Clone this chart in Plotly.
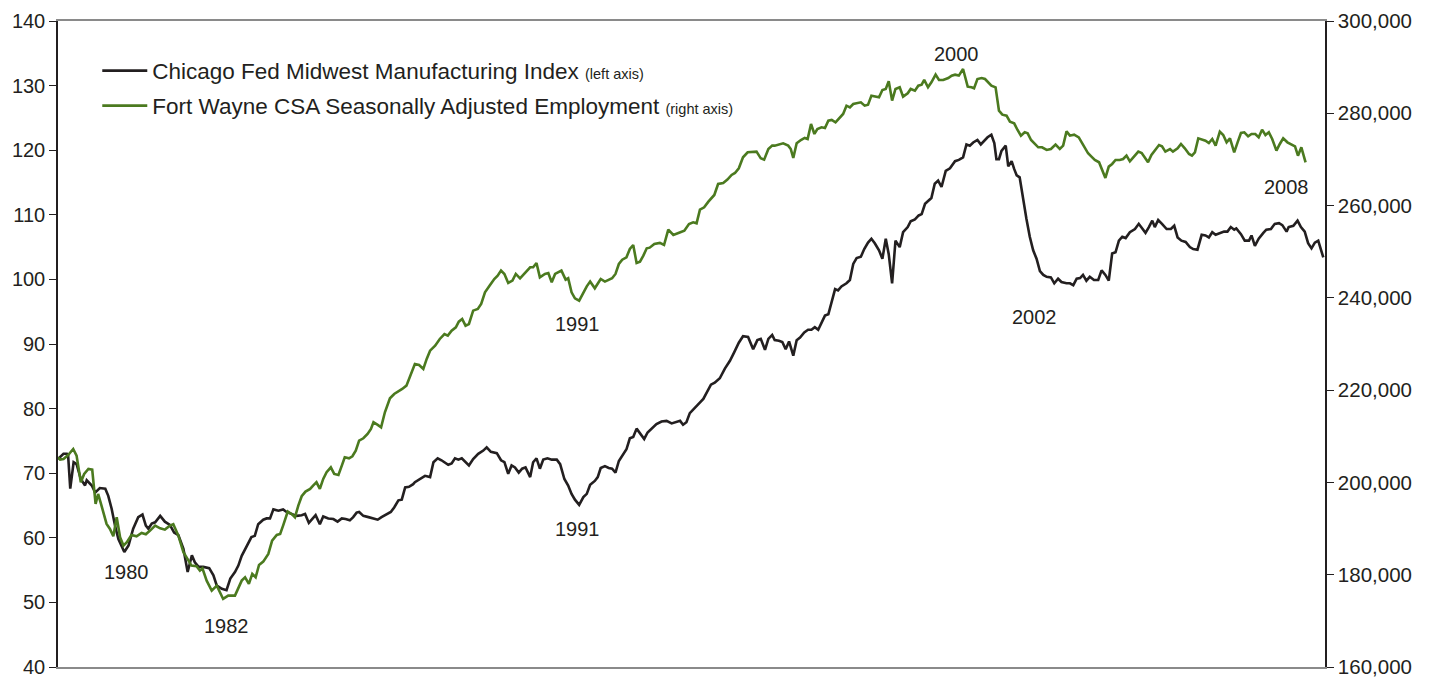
import plotly.graph_objects as go

# ---------------- data ----------------
black_years = [
    1979.00, 1979.13, 1979.21, 1979.24, 1979.29, 1979.37, 1979.44, 1979.54, 1979.64, 1979.68,
    1979.80, 1979.88, 1979.99, 1980.12, 1980.19, 1980.27, 1980.35, 1980.43, 1980.57, 1980.67,
    1980.78, 1980.90, 1981.00, 1981.08, 1981.14, 1981.22, 1981.30, 1981.42, 1981.53, 1981.65,
    1981.75, 1981.85, 1981.97, 1982.07, 1982.17, 1982.24, 1982.33, 1982.44, 1982.58, 1982.68,
    1982.76, 1982.88, 1982.99, 1983.08,
    1983.19, 1983.27, 1983.35, 1983.47, 1983.58, 1983.66, 1983.74, 1983.86, 1983.94, 1984.02,
    1984.10, 1984.22, 1984.33, 1984.41, 1984.53, 1984.65, 1984.77, 1984.85, 1984.94, 1985.02,
    1985.10, 1985.20, 1985.28, 1985.40, 1985.52, 1985.62, 1985.72, 1985.81, 1985.91, 1985.99,
    1986.07, 1986.13, 1986.23, 1986.35, 1986.47, 1986.57, 1986.66, 1986.78, 1986.88, 1986.96,
    1987.06, 1987.14, 1987.22, 1987.31, 1987.41,
    1987.45, 1987.57, 1987.69, 1987.81, 1987.89, 1987.99, 1988.08, 1988.24, 1988.32, 1988.40,
    1988.48, 1988.56, 1988.64, 1988.73, 1988.83, 1988.95, 1989.07, 1989.15, 1989.25, 1989.39,
    1989.49, 1989.57, 1989.66, 1989.74, 1989.82, 1989.91, 1989.99, 1990.07, 1990.18, 1990.25,
    1990.33, 1990.41, 1990.49, 1990.59, 1990.69, 1990.81, 1990.89, 1990.99, 1991.08, 1991.16,
    1991.24, 1991.34, 1991.44, 1991.52, 1991.60,
    1991.71, 1991.78, 1991.85, 1991.95, 1992.04, 1992.12, 1992.20, 1992.28, 1992.38, 1992.46,
    1992.54, 1992.62, 1992.70, 1992.78, 1992.88, 1992.96, 1993.05, 1993.17, 1993.29, 1993.41,
    1993.53, 1993.65, 1993.73, 1993.80, 1993.88, 1993.96, 1994.08, 1994.18, 1994.28, 1994.36,
    1994.46, 1994.55, 1994.67, 1994.79, 1994.91, 1995.01, 1995.12, 1995.22, 1995.34, 1995.46,
    1995.56, 1995.64, 1995.74, 1995.82, 1995.91,
    1995.97, 1996.07, 1996.15, 1996.23, 1996.31, 1996.41, 1996.49, 1996.57, 1996.67, 1996.76,
    1996.84, 1996.92, 1997.00, 1997.08, 1997.16, 1997.24, 1997.32, 1997.40, 1997.47, 1997.55,
    1997.67, 1997.75, 1997.83, 1997.91, 1998.01, 1998.09, 1998.18, 1998.26, 1998.34, 1998.44,
    1998.52, 1998.60, 1998.67, 1998.75, 1998.83, 1998.93, 1999.01, 1999.12, 1999.19, 1999.29,
    1999.38, 1999.45, 1999.53, 1999.62, 1999.68, 1999.76, 1999.84, 1999.92, 2000.02, 2000.12,
    2000.24, 2000.33, 2000.43, 2000.51, 2000.59, 2000.67, 2000.77, 2000.85, 2000.93, 2001.01,
    2001.10, 2001.17, 2001.22, 2001.28, 2001.34, 2001.44, 2001.50, 2001.58, 2001.64, 2001.70,
    2001.77, 2001.85, 2001.93, 2002.01, 2002.09, 2002.17, 2002.25, 2002.33, 2002.41, 2002.51,
    2002.59, 2002.68, 2002.76, 2002.88, 2002.96, 2003.04, 2003.12, 2003.20, 2003.27, 2003.35,
    2003.43, 2003.53, 2003.63, 2003.71, 2003.80, 2003.88, 2003.96, 2004.04, 2004.12, 2004.20,
    2004.28, 2004.38,
    2004.50, 2004.59, 2004.67, 2004.75, 2004.83, 2004.91, 2004.97, 2005.05, 2005.14, 2005.25,
    2005.35, 2005.43, 2005.51, 2005.60, 2005.70, 2005.80, 2005.88, 2005.98, 2006.08, 2006.17,
    2006.25, 2006.33, 2006.41, 2006.51, 2006.61, 2006.69, 2006.77, 2006.85, 2006.90, 2007.01,
    2007.10, 2007.20, 2007.26, 2007.34, 2007.43, 2007.54, 2007.61, 2007.72, 2007.81, 2007.91,
    2007.99, 2008.09, 2008.14, 2008.25, 2008.35, 2008.43, 2008.52, 2008.60, 2008.68, 2008.76,
    2008.84, 2008.90, 2008.96,
]
black_index = [
    72.2, 73.0, 73.0, 72.7, 67.6, 71.7, 71.4, 69.1, 68.1, 68.9,
    68.1, 67.0, 67.7, 67.6, 66.5, 64.5, 61.9, 59.8, 57.8, 58.8,
    61.4, 63.2, 63.6, 61.9, 61.4, 62.2, 62.4, 63.4, 62.5, 62.0,
    60.8, 60.4, 58.3, 54.7, 57.3, 56.2, 55.5, 55.5, 55.3, 54.2,
    52.6, 52.1, 51.9, 53.7,
    54.7, 55.7, 57.2, 58.8, 60.1, 60.3, 62.1, 62.8, 63.0, 63.0,
    64.4, 64.2, 64.4, 64.0, 63.7, 63.4, 63.5, 63.7, 62.3, 62.9,
    63.5, 62.1, 63.3, 63.0, 62.9, 62.5, 63.0, 62.9, 62.7, 63.2,
    63.9, 64.0, 63.4, 63.2, 63.0, 62.8, 63.2, 63.6, 64.0, 64.7,
    65.8, 65.9, 67.8, 67.9, 68.3,
    68.6, 69.1, 69.6, 69.4, 71.7, 72.3, 72.0, 71.3, 71.5, 72.3,
    72.1, 72.3, 71.7, 71.2, 72.2, 73.0, 73.5, 74.0, 73.3, 73.1,
    72.0, 71.7, 69.9, 71.2, 70.9, 70.1, 70.7, 70.9, 69.4, 71.7,
    72.3, 70.7, 72.1, 72.3, 72.1, 72.1, 71.4, 69.1, 68.1, 66.8,
    65.9, 65.1, 66.3, 66.8, 68.2,
    68.8, 69.4, 70.8, 71.1, 70.8, 70.7, 70.1, 71.9, 73.0, 73.7,
    75.4, 75.6, 76.9, 76.1, 75.3, 76.3, 76.8, 77.6, 78.0, 78.1,
    77.7, 77.9, 78.1, 77.5, 77.9, 79.3, 80.2, 80.8, 81.5, 82.5,
    83.7, 84.0, 84.7, 86.2, 87.4, 88.7, 90.2, 91.2, 91.1, 89.2,
    90.6, 90.8, 89.1, 90.8, 91.4,
    90.6, 90.5, 90.3, 89.2, 90.4, 88.2, 90.6, 91.0, 91.8, 92.2,
    92.2, 92.6, 92.2, 93.4, 94.4, 94.6, 96.7, 98.5, 98.3, 98.9,
    99.4, 99.9, 102.4, 103.3, 103.5, 104.7, 105.7, 106.3, 105.6, 104.5,
    103.2, 106.3, 103.9, 99.4, 106.0, 105.0, 107.3, 108.1, 109.0, 109.3,
    109.9, 110.1, 111.7, 112.3, 112.6, 114.8, 115.3, 114.3, 116.8, 117.2,
    118.3, 118.5, 118.9, 120.9, 120.7, 121.2, 121.6, 120.9, 121.4, 122.0,
    122.4, 121.1, 118.6, 118.6, 119.9, 120.7, 117.5, 118.3, 117.1, 116.1,
    115.8, 112.2, 109.4, 106.6, 104.5, 103.2, 101.3, 100.7, 100.4, 100.3,
    99.4, 100.1, 99.6, 99.4, 99.4, 99.1, 100.1, 100.2, 100.7, 99.8,
    100.4, 99.9, 99.9, 101.4, 100.7, 99.8, 104.0, 104.2, 106.0, 106.6,
    106.4, 107.3,
    107.8, 108.6, 107.8, 107.2, 108.1, 109.1, 108.1, 109.2, 108.6, 107.8,
    107.8, 108.3, 106.5, 106.0, 105.8, 105.0, 104.7, 104.6, 106.9, 106.8,
    106.5, 107.3, 106.9, 107.2, 107.4, 107.4, 108.1, 107.7, 107.9, 107.0,
    106.0, 106.0, 106.8, 105.2, 106.3, 107.2, 107.7, 107.8, 108.6, 108.7,
    108.4, 107.4, 108.1, 108.3, 109.1, 108.1, 107.4, 105.6, 104.8, 105.7,
    106.0, 104.7, 103.4,
]

green_years = [
    1979.00, 1979.05, 1979.13, 1979.24, 1979.36, 1979.44, 1979.54, 1979.62, 1979.72, 1979.81,
    1979.89, 1979.95, 1980.03, 1980.15, 1980.23, 1980.31, 1980.39, 1980.47, 1980.55, 1980.63,
    1980.74, 1980.86, 1980.98, 1981.08, 1981.18, 1981.30, 1981.42, 1981.53, 1981.65, 1981.73,
    1981.85, 1981.97, 1982.09, 1982.16, 1982.28, 1982.36, 1982.42, 1982.52, 1982.64, 1982.76,
    1982.91, 1983.03,
    1983.19, 1983.27, 1983.35, 1983.43, 1983.52, 1983.60, 1983.68, 1983.76, 1983.86, 1983.98,
    1984.07, 1984.18, 1984.26, 1984.33, 1984.44, 1984.53, 1984.61, 1984.69, 1984.77, 1984.86,
    1984.97, 1985.04, 1985.12, 1985.20, 1985.28, 1985.36, 1985.46, 1985.54, 1985.64, 1985.72,
    1985.79, 1985.89, 1985.97, 1986.05, 1986.13, 1986.23, 1986.33, 1986.41, 1986.47, 1986.57,
    1986.65, 1986.74, 1986.86, 1986.96, 1987.06, 1987.15, 1987.25, 1987.33, 1987.39,
    1987.45, 1987.55, 1987.65, 1987.73, 1987.81, 1987.93, 1988.04, 1988.15, 1988.23, 1988.32,
    1988.42, 1988.49, 1988.57, 1988.65, 1988.73, 1988.83, 1988.94, 1989.02, 1989.11, 1989.23,
    1989.33, 1989.41, 1989.49, 1989.57, 1989.66, 1989.76, 1989.84, 1989.94, 1990.04, 1990.18,
    1990.25, 1990.33, 1990.41, 1990.53, 1990.61, 1990.69, 1990.77, 1990.92, 1991.02, 1991.08,
    1991.16, 1991.24, 1991.34, 1991.44, 1991.52, 1991.60,
    1991.71, 1991.79, 1991.85, 1991.95, 1992.04, 1992.12, 1992.20, 1992.28, 1992.36, 1992.46,
    1992.54, 1992.62, 1992.70, 1992.78, 1992.86, 1992.94, 1993.01, 1993.12, 1993.25, 1993.35,
    1993.45, 1993.57, 1993.69, 1993.83, 1993.94, 1994.04, 1994.12, 1994.20, 1994.30, 1994.40,
    1994.54, 1994.63, 1994.75, 1994.85, 1994.95, 1995.03, 1995.12, 1995.22, 1995.33, 1995.44,
    1995.54, 1995.64, 1995.72, 1995.82, 1995.91,
    1995.97, 1996.07, 1996.17, 1996.29, 1996.35, 1996.41, 1996.49, 1996.59, 1996.68, 1996.75,
    1996.83, 1996.91, 1996.98, 1997.08, 1997.16, 1997.24, 1997.32, 1997.41, 1997.51, 1997.59,
    1997.67, 1997.75, 1997.83, 1997.93, 1998.01, 1998.10, 1998.18, 1998.26, 1998.36, 1998.44,
    1998.52, 1998.60, 1998.67, 1998.75, 1998.83, 1998.93, 1999.01, 1999.12, 1999.19, 1999.29,
    1999.37, 1999.45, 1999.51, 1999.60, 1999.68, 1999.78, 1999.86, 1999.96, 2000.08, 2000.16,
    2000.24, 2000.33, 2000.43, 2000.54, 2000.63, 2000.69, 2000.77, 2000.87, 2000.95, 2001.03,
    2001.10, 2001.20, 2001.28, 2001.36, 2001.46, 2001.54, 2001.64, 2001.72, 2001.80, 2001.89,
    2001.96, 2002.04, 2002.13, 2002.21, 2002.30, 2002.41, 2002.51, 2002.62, 2002.72, 2002.80,
    2002.88, 2002.96, 2003.06, 2003.17, 2003.27, 2003.39, 2003.47, 2003.55, 2003.65, 2003.72,
    2003.80, 2003.88, 2003.96, 2004.04, 2004.14, 2004.22, 2004.30, 2004.38,
    2004.50, 2004.58, 2004.66, 2004.73, 2004.81, 2004.89, 2004.99, 2005.07, 2005.14, 2005.22,
    2005.33, 2005.40, 2005.51, 2005.59, 2005.68, 2005.78, 2005.85, 2005.92, 2006.00, 2006.09,
    2006.17, 2006.25, 2006.33, 2006.41, 2006.51, 2006.59, 2006.67, 2006.75, 2006.85, 2006.93,
    2007.01, 2007.09, 2007.18, 2007.26, 2007.35, 2007.43, 2007.51, 2007.59, 2007.67, 2007.75,
    2007.85, 2007.93, 2008.01, 2008.11, 2008.21, 2008.29, 2008.36, 2008.44, 2008.54,
]
green_jobs = [
    205450, 204940, 205090, 205950, 207250, 205800, 200030, 201840, 202920, 202770,
    195340, 197500, 194970, 191000, 189920, 188330, 192450, 188110, 186310, 187030,
    188620, 188330, 189050, 188760, 189560, 190640, 190060, 189770, 190640, 190930,
    188470, 184860, 183060, 181970, 181830, 180890, 181400, 178720, 176560, 177640,
    174750, 175470,
    175470, 177280, 178720, 179450, 178000, 180170, 179450, 182120, 182840, 184500,
    187390, 188620, 188840, 190640, 193680, 193170, 192450, 194980, 197000, 198010,
    198590, 199310, 200030, 198590, 200760, 202200, 203280, 201840, 201620, 203640,
    205450, 205230, 205670, 206890, 209060, 209570, 210500, 211590, 213030, 212460,
    211950, 215200, 218230, 219170, 219680, 220260, 220980, 222780, 224450,
    225670, 225460, 224590, 226760, 228560, 229650, 231090, 232170, 231810, 232900,
    233620, 234850, 235430, 233980, 234340, 237230, 237590, 238680, 241200, 242790,
    244090, 244810, 245900, 245180, 243230, 243730, 245180, 244240, 245180, 246620,
    246620, 247560, 244450, 245180, 245390, 243370, 245180, 245900, 243950, 244240,
    241200, 239900, 239400, 241200, 242500, 243520,
    242070, 243230, 244090, 243520, 243950, 244240, 245180, 247340, 248280, 248790,
    250600, 251460, 247560, 247850, 249150, 250740, 250880, 251680, 251900, 251460,
    254780, 253630, 254060, 254570, 256010, 256370, 256160, 259120, 259620, 260850,
    262300, 264680, 264900, 265620, 266630, 267060, 268070, 270460, 271540, 271540,
    271690, 270240, 269950, 272260, 272990,
    272990, 273200, 273490, 272990, 272260, 270320, 273490, 274210, 274650, 274430,
    277680, 275520, 276600, 276960, 276820, 278400, 278550, 278040, 278980, 279850,
    281650, 281290, 282020, 282300, 282380, 281650, 281870, 283820, 283600, 283460,
    285050, 285270, 286930, 282740, 285270, 285630, 283600, 284330, 285270, 284900,
    285990, 286200, 287220, 285630, 286710, 288370, 287220, 287220, 287650, 288160,
    288370, 288160, 289600, 285770, 285630, 285410, 287430, 287650, 287430, 286710,
    285990, 285630, 280570, 279700, 279490, 278190, 277830, 276380, 275150, 275880,
    275660, 274210, 273350, 272630, 272630, 272050, 272270, 273200, 272270, 272990,
    276090, 275150, 275370, 274790, 273200, 271330, 270600, 269880, 269380, 267570,
    265980, 268440, 269020, 269880, 269880, 270090, 270820, 269590,
    270960, 271690, 271400, 270460, 269380, 270960, 272260, 273130, 272840, 271690,
    272260, 271690, 272410, 273350, 272410, 271180, 270820, 271540, 274580, 274290,
    274070, 273560, 274430, 272990, 276020, 275300, 273710, 274580, 271540, 273710,
    275730, 275880, 275010, 275520, 275520, 274790, 276450, 275300, 275880, 274430,
    271900, 273350, 274580, 273710, 273130, 272840, 270820, 272630, 269380,
]

black_name = "Chicago Fed Midwest Manufacturing Index"
green_name = "Fort Wayne CSA Seasonally Adjusted Employment"

label_text = ["1980", "1982", "1991", "1991", "2000", "2002", "2008"]
label_year = [1980.63, 1983.00, 1991.31, 1991.31, 2000.28, 2002.13, 2008.10]
label_value = [54.7, 46.35, 93.1, 61.4, 134.9, 94.2, 114.3]

left_ticks = [40, 50, 60, 70, 80, 90, 100, 110, 120, 130, 140]
right_ticks = [160000, 180000, 200000, 220000, 240000, 260000, 280000, 300000]

# ---------------- figure ----------------
INK = "#231f20"
GREEN = "#4b7a1f"
FONT = "Liberation Sans, Arial, sans-serif"

fig = go.Figure()
fig.add_trace(go.Scatter(
    x=black_years, y=black_index, mode="lines",
    line=dict(color=INK, width=2.6),
    name=black_name + ' <span style="font-size:14.5px">(left axis)</span>',
    legend="legend", hoverinfo="skip",
))
fig.add_trace(go.Scatter(
    x=green_years, y=green_jobs, mode="lines", yaxis="y2",
    line=dict(color=GREEN, width=2.6),
    name=green_name + ' <span style="font-size:14.5px">(right axis)</span>',
    legend="legend2", hoverinfo="skip",
))

for t, xx, yy in zip(label_text, label_year, label_value):
    fig.add_annotation(x=xx, y=yy, xref="x", yref="y", text=t, showarrow=False,
                       font=dict(family=FONT, size=20, color=INK))

axis_common = dict(showgrid=False, zeroline=False, automargin=False)

fig.update_layout(
    width=1437, height=677,
    margin=dict(l=58, r=112, t=21, b=10),
    plot_bgcolor="white", paper_bgcolor="white",
    font=dict(family=FONT, color=INK),
    xaxis=dict(range=[1979, 2009], showticklabels=False, ticks="",
               showline=True, linecolor="#8a8a8a", linewidth=1.5, mirror=True,
               **axis_common),
    yaxis=dict(range=[40, 140], tickvals=left_ticks, ticks="outside", ticklen=7,
               tickwidth=1, tickcolor=INK, showline=True, linecolor=INK, linewidth=1.5,
               ticklabeloverflow="allow",
               tickfont=dict(family=FONT, size=20, color=INK), **axis_common),
    yaxis2=dict(range=[160000, 300000], tickvals=right_ticks, tickformat=",d",
                overlaying="y", side="right", ticks="outside", ticklen=7,
                tickwidth=1, tickcolor=INK, showline=True, linecolor=INK, linewidth=1.5,
                ticklabeloverflow="allow",
                tickfont=dict(family=FONT, size=20.5, color=INK), **axis_common),
    yaxis3=dict(range=[40, 140], tickvals=left_ticks, overlaying="y", side="left",
                ticks="inside", ticklen=7, tickwidth=1, tickcolor=INK,
                showticklabels=False, showline=False, **axis_common),
    yaxis4=dict(range=[160000, 300000], tickvals=right_ticks, overlaying="y", side="right",
                ticks="inside", ticklen=7, tickwidth=1, tickcolor=INK,
                showticklabels=False, showline=False, **axis_common),
    legend=dict(x=0.031, y=0.9226, xanchor="left", yanchor="middle",
                bgcolor="rgba(0,0,0,0)", font=dict(family=FONT, size=22.5, color=INK),
                itemwidth=45),
    legend2=dict(x=0.031, y=0.8684, xanchor="left", yanchor="middle",
                 bgcolor="rgba(0,0,0,0)", font=dict(family=FONT, size=22.5, color=INK),
                 itemwidth=45),
    showlegend=True,
)

fig.write_html(
    "out.html",
    config={"displayModeBar": False},
    post_script="document.body.style.margin='0';document.body.style.overflow='hidden';",
)
